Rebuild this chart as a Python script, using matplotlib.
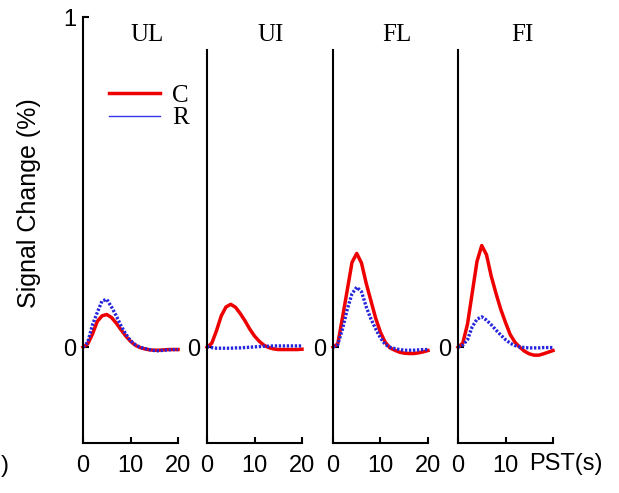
import numpy as np
import matplotlib.pyplot as plt
import matplotlib.transforms as mtransforms
from matplotlib.lines import Line2D

# tiempo post-estimulo (s)
t = np.arange(0, 21)

conditions = ['UL', 'UI', 'FL', 'FI']
x_ticks = [0, 10, 20]

# C (rojo) y R (azul) para cada condicion
c_ul = [0, 0.01, 0.04, 0.078, 0.095, 0.099, 0.09, 0.073, 0.053, 0.034, 0.018,
        0.006, -0.001, -0.005, -0.008, -0.009, -0.009, -0.008, -0.007, -0.007, -0.007]
r_ul = [0, 0.015, 0.068, 0.105, 0.14, 0.145, 0.122, 0.095, 0.065, 0.04, 0.02,
        0.008, 0.0, -0.004, -0.007, -0.01, -0.011, -0.009, -0.008, -0.007, -0.007]
c_ui = [0, 0.012, 0.05, 0.095, 0.122, 0.13, 0.121, 0.102, 0.08, 0.055, 0.034,
        0.018, 0.006, -0.001, -0.005, -0.007, -0.007, -0.007, -0.007, -0.007, -0.006]
r_ui = [0.002, -0.001, -0.003, -0.003, -0.003, -0.003, -0.002, -0.002, -0.001, 0.0, 0.001,
        0.002, 0.003, 0.003, 0.004, 0.004, 0.004, 0.004, 0.004, 0.004, 0.004]
c_fl = [0, 0.01, 0.09, 0.173, 0.257, 0.284, 0.255, 0.193, 0.14, 0.087, 0.045,
        0.015, -0.002, -0.009, -0.015, -0.018, -0.019, -0.019, -0.017, -0.014, -0.01]
r_fl = [0, 0.008, 0.055, 0.115, 0.162, 0.182, 0.168, 0.122, 0.085, 0.055, 0.028,
        0.008, 0.0, -0.004, -0.007, -0.009, -0.009, -0.009, -0.008, -0.007, -0.007]
c_fi = [0, 0.012, 0.07, 0.165, 0.26, 0.308, 0.28, 0.215, 0.163, 0.115, 0.075,
        0.038, 0.015, 0.0, -0.012, -0.02, -0.024, -0.024, -0.02, -0.015, -0.01]
r_fi = [0, 0.006, 0.023, 0.062, 0.085, 0.092, 0.082, 0.068, 0.052, 0.037, 0.023,
        0.012, 0.005, 0.001, -0.001, -0.002, -0.002, -0.002, -0.001, -0.001, -0.001]

c_all = [c_ul, c_ui, c_fl, c_fi]
r_all = [r_ul, r_ui, r_fl, r_fi]

W, H = 619, 493
fig = plt.figure(figsize=(W / 100, H / 100), dpi=100)

lefts = [83, 207, 333, 458]
sans = 'Liberation Sans'
serif = 'Liberation Serif'

for i, name in enumerate(conditions):
    ax = fig.add_axes([lefts[i] / W, 50 / H, 95 / W, 426 / H])
    ax.plot(t, c_all[i], color='#ee0000', lw=2.5, clip_on=False,
            solid_joinstyle='round', label='C')
    ax.plot(t, r_all[i], color='#2525dd', lw=2.4, ls=(0, (0.7, 0.5)),
            clip_on=False, label='R')
    ax.set_xlim(0, 20)
    ax.set_ylim(-0.29, 1.0)
    ax.spines['top'].set_visible(False)
    ax.spines['right'].set_visible(False)
    for s in ['left', 'bottom']:
        ax.spines[s].set_linewidth(1.5)
    ax.set_xticks(x_ticks)
    if i == 3:
        ax.set_xticklabels(['0', '10', ''])
        tr = mtransforms.blended_transform_factory(ax.transData, ax.transAxes)
        ax.text(22.8, -0.05, 'PST(s)', transform=tr, ha='center', va='center',
                fontsize=17, family=sans)
    else:
        ax.set_xticklabels([str(v) for v in x_ticks])
    if i == 0:
        ax.set_yticks([0, 1])
        ax.set_yticklabels(['0', '1'])
    else:
        ax.set_yticks([0])
        ax.set_yticklabels(['0'])
        ax.spines['left'].set_bounds(-0.29, 0.9)
    ax.tick_params(direction='in', length=4, width=1.5, labelsize=17, pad=5)
    ax.tick_params(axis='x', pad=9)
    for lab in ax.get_xticklabels() + ax.get_yticklabels():
        lab.set_family(sans)
    ax.text(13.5, 0.945, name, ha='center', va='center', fontsize=18, family=serif)
    if i == 0:
        handles = [Line2D([], [], color='#ee0000', lw=2.5),
                   Line2D([], [], color='#3535ee', lw=1.0)]
        ax.legend(handles, ['C', 'R'], loc='upper left',
                  bbox_to_anchor=(96 / W, 1 - 72 / H), bbox_transform=fig.transFigure,
                  frameon=False, prop={'family': serif, 'size': 18},
                  handlelength=2.05, handletextpad=0.5, labelspacing=0.0, borderpad=0)

fig.text(29 / W, 1 - 203 / H, 'Signal Change (%)', rotation=90, ha='center',
         va='center', fontsize=18, family=sans)
fig.text(0.5 / W, 1 - 466 / H, ')', ha='left', va='center', fontsize=17, family=sans)

fig.savefig('out.png', dpi=100)
